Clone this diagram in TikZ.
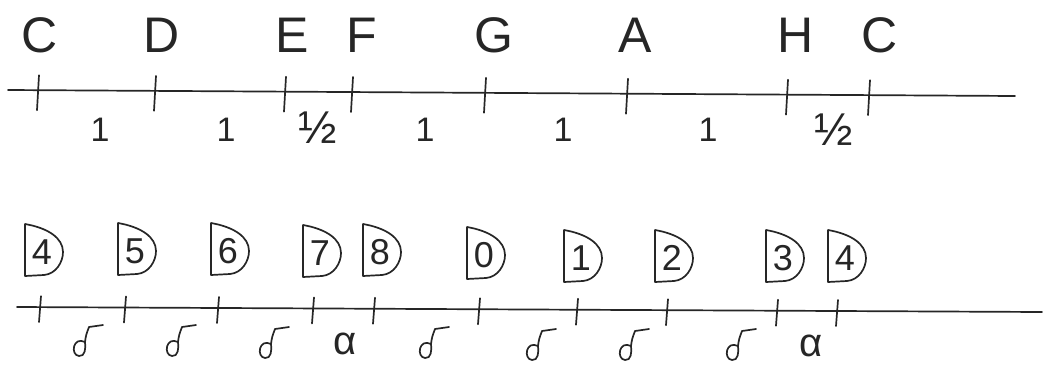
\documentclass[tikz,border=0pt]{standalone}
\usepackage{fontspec}
\setmainfont{Liberation Sans}
\begin{document}
\begin{tikzpicture}[x=1pt,y=-1pt,
  ink/.style={draw=black!85, line width=1.7pt, line cap=round, line join=round},
  letter/.style={font=\fontsize{50}{50}\selectfont, text=black!85, inner sep=0pt, anchor=base},
  stepnum/.style={font=\fontsize{34}{34}\selectfont, text=black!85, inner sep=0pt},
  halfnum/.style={font=\fontsize{46}{46}\selectfont, text=black!85, inner sep=0pt},
  alphanum/.style={font=\fontsize{40}{40}\selectfont, text=black!85, inner sep=0pt},
  boxnum/.style={font=\fontsize{36}{36}\selectfont, text=black!85, inner sep=0pt},
  dbox/.pic={
    \node[boxnum] (-t) at (0,0) {#1};
    \draw[ink] (-17,-28) -- (-17,24) -- (2,23) .. controls (14,22) and (21,10) .. (21,0)
      .. controls (21,-14) and (6,-24) .. (-17,-28);
  },
  notesym/.pic={
    \draw[ink] (-1,2) .. controls (-13,-4) and (-16,15) .. (-7,16) .. controls (-1,17) and (0,8) .. (-1,2)
      .. controls (0,-5) .. (3,-13) -- (17,-15);
  }
]
\useasboundingbox (0,0) rectangle (1047,367);

% ---------- top row ----------
\coordinate (tl) at (8,90);
\coordinate (tr) at (1015,96);
\draw[ink] (tl) -- (tr);
\foreach \x/\n in {38/t1,155/t2,285/t3,352/t4,485/t5,627/t6,787/t7,869/t8}{
  \pgfmathsetmacro{\yy}{90+6*(\x-8)/1007}
  \coordinate (\n a) at (\x+1,\yy-15);
  \coordinate (\n b) at (\x-1,\yy+20);
  \draw[ink] (\n a) -- (\n b);
}
\node[letter] (lC1) at (40,52) {C};
\node[letter] (lD) at (162,52) {D};
\node[letter] (lE) at (292,52) {E};
\node[letter] (lF) at (362,52) {F};
\node[letter] (lG) at (494,52) {G};
\node[letter] (lA) at (635,52) {A};
\node[letter] (lH) at (796,52) {H};
\node[letter] (lC2) at (880,52) {C};

\node[stepnum] (s1) at (100,130) {1};
\node[stepnum] (s2) at (226,130) {1};
\node[halfnum] (s3) at (318,128) {½};
\node[stepnum] (s4) at (425,130) {1};
\node[stepnum] (s5) at (563,130) {1};
\node[stepnum] (s6) at (708,130) {1};
\node[halfnum] (s7) at (834,130) {½};

% ---------- bottom row ----------
\coordinate (bl) at (17,307);
\coordinate (br) at (1042,312);
\draw[ink] (bl) -- (br);
\foreach \x/\n in {40/u1,125/u2,218/u3,313/u4,374/u5,479/u6,577/u7,667/u8,777/u9,837/u10}{
  \pgfmathsetmacro{\yy}{307+5*(\x-17)/1025}
  \coordinate (\n a) at (\x+1,\yy-11);
  \coordinate (\n b) at (\x-1,\yy+15);
  \draw[ink] (\n a) -- (\n b);
}
\pic (b1) at (42,252) {dbox=4};
\pic (b2) at (135,251) {dbox=5};
\pic (b3) at (228,251) {dbox=6};
\pic (b4) at (320,253) {dbox=7};
\pic (b5) at (380,252) {dbox=8};
\pic (b6) at (484,255) {dbox=0};
\pic (b7) at (581,258) {dbox=1};
\pic (b8) at (672,258) {dbox=2};
\pic (b9) at (783,258) {dbox=3};
\pic (b10) at (845,258) {dbox=4};

\pic (n1) at (86,340) {notesym};
\pic (n2) at (179,340) {notesym};
\pic (n3) at (272,342) {notesym};
\node[alphanum] (a1) at (345,344) {α};
\pic (n4) at (432,342) {notesym};
\pic (n5) at (539,344) {notesym};
\pic (n6) at (632,344) {notesym};
\pic (n7) at (739,344) {notesym};
\node[alphanum] (a2) at (811,346) {α};
\end{tikzpicture}
\end{document}
